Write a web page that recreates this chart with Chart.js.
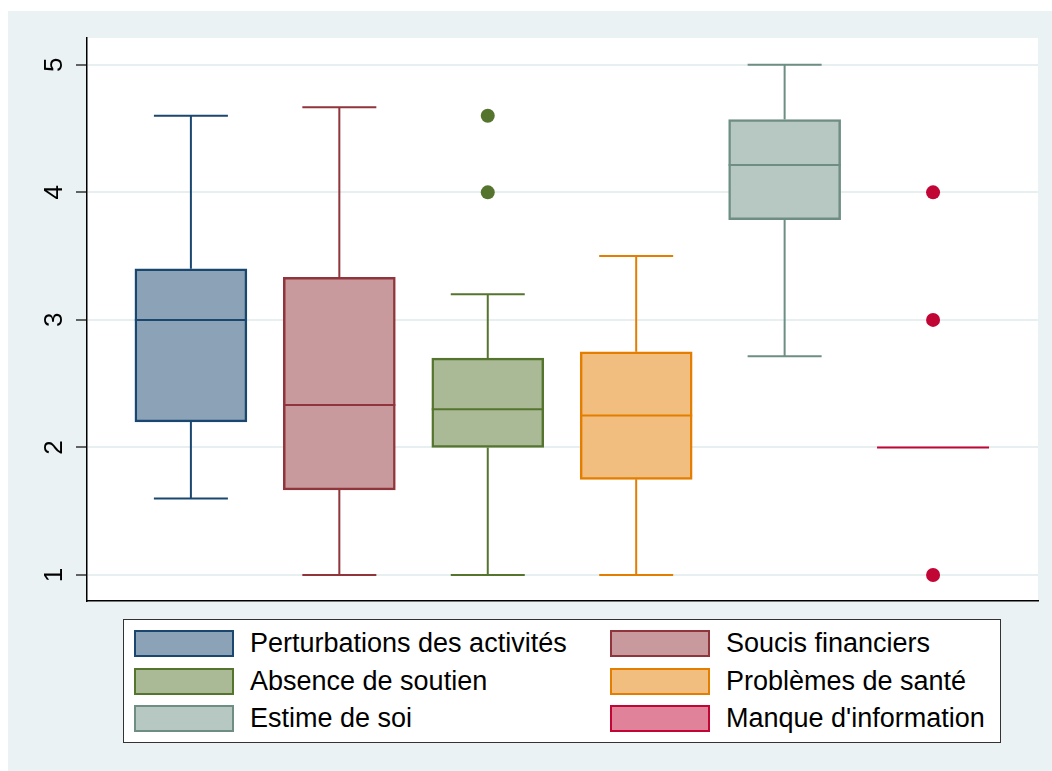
<!DOCTYPE html>
<html>
<head>
<meta charset="utf-8">
<script src="https://cdn.jsdelivr.net/npm/chart.js@4"></script>
<style>
    body { margin: 0; background: #fff; }
    #wrap { position: relative; width: 1052px; height: 771px; }
    #legend {
        position: absolute; left: 123px; top: 619px; width: 876px; height: 122px;
        background: #fff; border: 1.5px solid #333;
        font-family: "Liberation Sans", Arial, sans-serif; font-size: 27px; color: #000;
    }
    .item { position: absolute; height: 27px; }
    .item .sw { position: absolute; left: 0; top: 0; width: 96px; height: 23px; border: 2px solid; }
    .item span { position: absolute; left: 116px; top: 0; line-height: 27px; white-space: nowrap; }
</style>
</head>
<body>
<div id="wrap">
    <canvas id="chart" width="1052" height="771"></canvas>
    <div id="legend"></div>
</div>
<script>
const categories = ['Perturbations des activités', 'Soucis financiers', 'Absence de soutien',
    'Problèmes de santé', 'Estime de soi', "Manque d'information"];
const positions = [1, 2, 3, 4, 5, 6];
const lowWhisker = [1.6, 1, 1, 1, 2.714, 2];
const q1 = [2.2, 1.667, 2.0, 1.75, 3.786, 2];
const median = [3.0, 2.333, 2.3, 2.25, 4.214, 2];
const q3 = [3.4, 3.333, 2.7, 2.75, 4.571, 2];
const highWhisker = [4.6, 4.667, 3.2, 3.5, 5, 2];
const outlierGroup = [3, 3, 6, 6, 6];
const outlierValue = [4.6, 4, 4, 3, 1];
const yTicks = [1, 2, 3, 4, 5];

const lineColors = ['#1a476f', '#90353b', '#55752f', '#e37e00', '#6e8e84', '#c10534'];
const fillColors = ['#8ca3b7', '#c89a9d', '#aaba97', '#f1be7f', '#b7c7c1', '#e08299'];

// background panels + rotated y tick labels + whiskers/medians
const boxPlugin = {
    id: 'boxPlugin',
    beforeDraw(chart) {
        const ctx = chart.ctx, a = chart.chartArea;
        ctx.save();
        ctx.fillStyle = '#fff';
        ctx.fillRect(0, 0, chart.width, chart.height);
        ctx.fillStyle = '#eaf2f3';
        ctx.fillRect(8, 11, chart.width - 8, chart.height - 11);
        ctx.fillStyle = '#fff';
        ctx.fillRect(a.left, a.top, a.right - a.left, a.bottom - a.top);
        ctx.restore();
    },
    afterDatasetsDraw(chart) {
        const ctx = chart.ctx;
        const xs = chart.scales.x, ys = chart.scales.y;
        ctx.save();
        ctx.lineWidth = 2;
        positions.forEach((p, i) => {
            const x = xs.getPixelForValue(p);
            ctx.strokeStyle = lineColors[i];
            ctx.beginPath();
            ctx.moveTo(x, ys.getPixelForValue(q3[i]));
            ctx.lineTo(x, ys.getPixelForValue(highWhisker[i]));
            ctx.moveTo(x, ys.getPixelForValue(q1[i]));
            ctx.lineTo(x, ys.getPixelForValue(lowWhisker[i]));
            ctx.moveTo(x - 37, ys.getPixelForValue(highWhisker[i]));
            ctx.lineTo(x + 37, ys.getPixelForValue(highWhisker[i]));
            ctx.moveTo(x - 37, ys.getPixelForValue(lowWhisker[i]));
            ctx.lineTo(x + 37, ys.getPixelForValue(lowWhisker[i]));
            ctx.moveTo(x - 56, ys.getPixelForValue(median[i]));
            ctx.lineTo(x + 56, ys.getPixelForValue(median[i]));
            ctx.stroke();
        });
        ctx.restore();
    },
    afterDraw(chart) {
        const ctx = chart.ctx, ys = chart.scales.y;
        ctx.save();
        ctx.fillStyle = '#000';
        ctx.font = '26px "Liberation Sans", Arial, sans-serif';
        ctx.textAlign = 'center';
        ctx.textBaseline = 'middle';
        yTicks.forEach(v => {
            ctx.save();
            ctx.translate(55, ys.getPixelForValue(v));
            ctx.rotate(-Math.PI / 2);
            ctx.fillText(String(v), 0, 0);
            ctx.restore();
        });
        ctx.restore();
    }
};

new Chart(document.getElementById('chart'), {
    type: 'bar',
    data: {
        datasets: [
            {
                label: 'boxes',
                data: positions.map((p, i) => ({ x: p, y: [q1[i], q3[i]] })),
                backgroundColor: fillColors,
                borderColor: lineColors,
                borderWidth: 2.5,
                borderSkipped: false,
                barThickness: 112,
                grouped: false
            },
            {
                type: 'scatter',
                label: 'outliers',
                data: outlierGroup.map((g, i) => ({ x: g, y: outlierValue[i] })),
                pointBackgroundColor: outlierGroup.map(g => lineColors[g - 1]),
                pointBorderWidth: 0,
                pointRadius: 7
            }
        ]
    },
    options: {
        responsive: false,
        animation: false,
        layout: { padding: { left: 0, top: 38, right: 14, bottom: 170 } },
        plugins: { legend: { display: false }, tooltip: { enabled: false } },
        scales: {
            x: {
                type: 'linear',
                offset: false,
                min: 0.30,
                max: 6.707,
                grid: { display: false },
                ticks: { display: false },
                border: { display: true, color: '#000', width: 1.5 },
                afterFit: s => { s.height = 0; }
            },
            y: {
                min: 0.796,
                max: 5.21,
                afterBuildTicks: s => { s.ticks = yTicks.map(v => ({ value: v })); },
                ticks: { display: false },
                grid: { color: '#e8eff1', lineWidth: 2, tickLength: 11, tickColor: '#333', tickWidth: 1.5 },
                border: { display: true, color: '#000', width: 1.5 },
                afterFit: s => { s.width = 87; }
            }
        }
    },
    plugins: [boxPlugin]
});

// legend, two columns
const legend = document.getElementById('legend');
categories.forEach((c, i) => {
    const item = document.createElement('div');
    item.className = 'item';
    item.style.left = (i % 2 === 0 ? 10 : 486) + 'px';
    item.style.top = (10 + Math.floor(i / 2) * 37.5) + 'px';
    item.innerHTML = '<div class="sw"></div><span></span>';
    item.querySelector('.sw').style.background = fillColors[i];
    item.querySelector('.sw').style.borderColor = lineColors[i];
    item.querySelector('span').textContent = c;
    legend.appendChild(item);
});
</script>
</body>
</html>
